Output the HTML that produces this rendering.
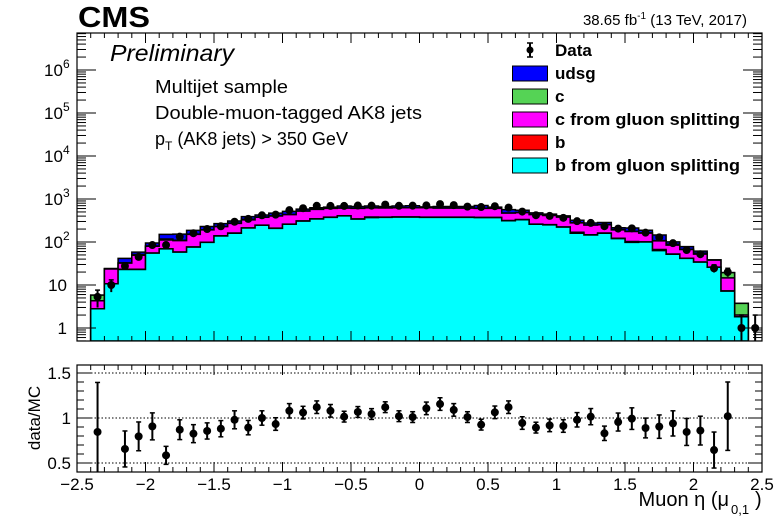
<!DOCTYPE html>
<html><head><meta charset="utf-8"><style>
html,body{margin:0;padding:0;background:#fff;}
svg text{font-family:"Liberation Sans",sans-serif;}
</style></head><body>
<svg id="c" width="778" height="524" xmlns="http://www.w3.org/2000/svg">
<g id="upper"></g>
<g id="lower"></g>
<g id="txt">
<text x="78" y="27" font-size="29" font-weight="bold" textLength="72" lengthAdjust="spacingAndGlyphs">CMS</text>
<text x="747" y="25" font-size="15" text-anchor="end">38.65 fb<tspan dy="-6" font-size="10">-1</tspan><tspan dy="6"> (13 TeV, 2017)</tspan></text>
<text x="110" y="61" font-size="23" font-style="italic" textLength="124" lengthAdjust="spacingAndGlyphs">Preliminary</text>
<text x="155" y="93" font-size="18" textLength="133" lengthAdjust="spacingAndGlyphs">Multijet sample</text>
<text x="155" y="119" font-size="18" textLength="267" lengthAdjust="spacingAndGlyphs">Double-muon-tagged AK8 jets</text>
<text x="155" y="145" font-size="18">p<tspan dy="5" font-size="12">T</tspan><tspan dy="-5"> (AK8 jets) &gt; 350 GeV</tspan></text>
<text transform="translate(40,418) rotate(-90)" font-size="17" text-anchor="middle">data/MC</text>
<text x="729" y="506" font-size="20" text-anchor="end">Muon η (μ</text>
<text x="731" y="514" font-size="13">0,1</text>
<text x="755" y="506" font-size="20">)</text>
</g>
<g id="legend"></g>
</svg>
<script>
const NS="http://www.w3.org/2000/svg";
const edgesLo=-2.4, binW=0.1;
const bgs=[2.8,10.7,23,23,55,69,58,76,98,138,160,211,245,208,258,306,343,375,405,340,370,375,380,380,375,375,375,375,370,370,313,330,258,250,222,160,145,160,120,98,100,63,52,41.6,34,25.8,7.2,1.83];
const bHad=[0,0,0.2,0.3,0.5,0.6,0.6,0.8,1,1.5,2,2,2.5,2,3,3,4,4,4,4,12,4,4,4,4,4,4,4,4,4,3,3,3,3,3,8,2,2,2,5,1,4,0.5,0.4,0.3,0.2,0.1,0];
const cgs=[1.5,12.8,9,26,24,42,49,74,92,88,110,114,130,192,172,214,227,225,205,260,240,240,240,240,245,235,235,235,230,230,152,150,172,160,153,110,100,90,70,72,60,39,32,25,18,12,7.3,0.17];
const cHad=[1.5,0.2,0.5,2,1,6,2,2,2,2,3,10,3,3,4,4,4,4,4,4,4,4,4,4,4,4,4,4,4,4,3,3,3,3,3,3,2,2,2,2,2,2,4,1,3,0.2,4.8,1.75];
const udsg=[0,0.5,9,7,14,33,43,33,36,38,32,53,43,65,80,55,50,40,70,60,60,45,60,70,30,50,50,50,100,40,95,60,40,30,25,40,27,30,20,35,25,37,12,10,6,0.3,0,0];
const dataEta=[-2.35,-2.25,-2.15,-2.05,-1.95,-1.85,-1.75,-1.65,-1.55,-1.45,-1.35,-1.25,-1.15,-1.05,-0.95,-0.85,-0.75,-0.65,-0.55,-0.45,-0.35,-0.25,-0.15,-0.05,0.05,0.15,0.25,0.35,0.45,0.55,0.65,0.75,0.85,0.95,1.05,1.15,1.25,1.35,1.45,1.55,1.65,1.75,1.85,1.95,2.05,2.15,2.25,2.35,2.45];
const dataVal=[5.3,10,27.6,45,85,85,133,160,200,232,296,345,418,433,550,610,695,690,690,705,700,740,695,700,710,760,720,665,650,680,630,510,420,405,365,305,278,233,205,208,165,128,94,65,52,24.5,20,1.0,1.0];
const ratioEta=[-2.35,-2.15,-2.05,-1.95,-1.85,-1.75,-1.65,-1.55,-1.45,-1.35,-1.25,-1.15,-1.05,-0.95,-0.85,-0.75,-0.65,-0.55,-0.45,-0.35,-0.25,-0.15,-0.05,0.05,0.15,0.25,0.35,0.45,0.55,0.65,0.75,0.85,0.95,1.05,1.15,1.25,1.35,1.45,1.55,1.65,1.75,1.85,1.95,2.05,2.15,2.25];
const ratioVal=[0.845,0.656,0.796,0.907,0.585,0.87,0.826,0.856,0.881,0.98,0.893,1.0,0.933,1.08,1.06,1.12,1.08,1.015,1.067,1.044,1.12,1.02,1.01,1.107,1.155,1.09,1.01,0.926,1.063,1.12,0.944,0.893,0.918,0.911,0.98,1.015,0.83,0.955,0.993,0.889,0.904,0.94,0.845,0.86,0.644,1.02];
const ratioErr=[0.55,0.2,0.16,0.15,0.1,0.11,0.1,0.09,0.09,0.1,0.08,0.08,0.07,0.08,0.07,0.07,0.07,0.06,0.06,0.06,0.06,0.06,0.06,0.07,0.07,0.07,0.06,0.06,0.07,0.07,0.07,0.06,0.07,0.07,0.08,0.09,0.08,0.1,0.12,0.11,0.13,0.14,0.15,0.16,0.2,0.38];
const xTicks=[-2.5,-2,-1.5,-1,-0.5,0,0.5,1,1.5,2,2.5];
const xTickLabels=["\u22122.5","\u22122","\u22121.5","\u22121","\u22120.5","0","0.5","1","1.5","2","2.5"];
const ratioTicks=[0.5,1,1.5];
const ratioTickLabels=["0.5","1","1.5"];

const X0=77,X1=762, UT=33,UB=341, LT=365,LB=472;
const xs=v=>X0+(v+2.5)/5*(X1-X0);
const yu=v=>328-43*Math.log10(Math.max(v,1e-3));
const yr=v=>418-(v-1)*90;
const up=document.getElementById('upper'), lo=document.getElementById('lower'), lg=document.getElementById('legend');
function mk(tag,attrs,parent){const e=document.createElementNS(NS,tag);for(const k in attrs)e.setAttribute(k,attrs[k]);parent.appendChild(e);return e;}

const defs=mk('defs',{},document.getElementById('c'));
const cp=mk('clipPath',{id:'cu'},defs);mk('rect',{x:X0,y:UT,width:X1-X0,height:UB-UT},cp);
const cp2=mk('clipPath',{id:'cl'},defs);mk('rect',{x:X0,y:LT,width:X1-X0,height:LB-LT},cp2);

const layers=[["udsg",udsg,"#0000ff"],["c",cHad,"#55d355"],["cgs",cgs,"#ff00ff"],["b",bHad,"#ff0000"],["bgs",bgs,"#00ffff"]];
const comps=[bgs,bHad,cgs,cHad,udsg];
const gs=mk('g',{'clip-path':'url(#cu)'},up);


for(let li=0;li<layers.length;li++){
  const depth=layers.length-li;
  let d="M"+xs(edgesLo)+","+UB;
  for(let i=0;i<bgs.length;i++){
    let s=0;for(let k=0;k<depth;k++)s+=comps[k][i];
    const y=s>0?yu(s):UB+5;
    d+=" L"+xs(edgesLo+i*binW)+","+y+" L"+xs(edgesLo+(i+1)*binW)+","+y;
  }
  d+=" L"+xs(edgesLo+bgs.length*binW)+","+UB+" Z";
  const p=mk('path',{d:d,fill:layers[li][2],stroke:'#000','stroke-width':1.5},gs);
  
  
}
const gd=mk('g',{'clip-path':'url(#cu)'},up);


for(let i=0;i<dataVal.length;i++){
  const v=dataVal[i],e=Math.sqrt(v),x=xs(dataEta[i]);
  const y1=yu(v+e), y2=v-e>0?yu(v-e):UB+2;
  mk('line',{x1:x,x2:x,y1:y1,y2:y2,stroke:'#000','stroke-width':2},gd);
  mk('line',{x1:x-2.5,x2:x+2.5,y1:y1,y2:y1,stroke:'#000','stroke-width':1.5},gd);
  const c=mk('circle',{cx:x,cy:yu(v),r:4,fill:'#000'},gd);
  
  
}
mk('rect',{x:X0,y:UT,width:X1-X0,height:UB-UT,fill:'none',stroke:'#000','stroke-width':1.2},up);
for(let t=-2.5;t<=2.5001;t+=0.1){const x=xs(t);const maj=Math.abs(t*2-Math.round(t*2))<1e-6;const L=maj?10:5;
 mk('line',{x1:x,x2:x,y1:UB,y2:UB-L,stroke:'#000','stroke-width':1},up);mk('line',{x1:x,x2:x,y1:UT,y2:UT+L,stroke:'#000','stroke-width':1},up);
 mk('line',{x1:x,x2:x,y1:LB,y2:LB-L,stroke:'#000','stroke-width':1},lo);mk('line',{x1:x,x2:x,y1:LT,y2:LT+L,stroke:'#000','stroke-width':1},lo);}
for(let dec=-1;dec<=7;dec++){for(let m=1;m<=9;m++){const v=m*Math.pow(10,dec);const y=yu(v);if(y<UT||y>UB)continue;const L=m==1?19:9;
 mk('line',{x1:X0,x2:X0+L,y1:y,y2:y,stroke:'#000','stroke-width':1},up);mk('line',{x1:X1,x2:X1-L,y1:y,y2:y,stroke:'#000','stroke-width':1},up);}}
const ylab=[[1,"1",""],[10,"10",""],[100,"10","2"],[1000,"10","3"],[1e4,"10","4"],[1e5,"10","5"],[1e6,"10","6"]];
ylab.forEach(l=>{const y=yu(l[0]);
 if(l[2]){const t=mk('text',{x:44,y:y+6,'font-size':17},up);t.textContent=l[1];const s=mk('text',{x:63,y:y-2,'font-size':12},up);s.textContent=l[2];}
 else{const t=mk('text',{x:67,y:y+6,'font-size':17,'text-anchor':'end'},up);t.textContent=l[1];}});

ratioTicks.forEach((t,i)=>{const y=yr(t);mk('line',{x1:X0,x2:X1,y1:y,y2:y,stroke:'#000','stroke-width':1,'stroke-dasharray':'1.5,2'},lo);
 const tl=mk('text',{x:71,y:y+6,'font-size':17,'text-anchor':'end'},lo);tl.textContent=ratioTickLabels[i];
 
 });
for(let v=0.4;v<=1.5901;v+=0.1){const y=yr(v);const maj=Math.abs(v*2-Math.round(v*2))<1e-6;const L=maj?14:7;
 mk('line',{x1:X0,x2:X0+L,y1:y,y2:y,stroke:'#000'},lo);mk('line',{x1:X1,x2:X1-L,y1:y,y2:y,stroke:'#000'},lo);}
const gr=mk('g',{'clip-path':'url(#cl)'},lo);


for(let i=0;i<ratioVal.length;i++){const x=xs(ratioEta[i]),y1=yr(ratioVal[i]+ratioErr[i]),y2=yr(ratioVal[i]-ratioErr[i]);
 mk('line',{x1:x,x2:x,y1:y1,y2:y2,stroke:'#000','stroke-width':2},gr);
 mk('line',{x1:x-2.5,x2:x+2.5,y1:y1,y2:y1,stroke:'#000','stroke-width':1.5},gr);
 mk('line',{x1:x-2.5,x2:x+2.5,y1:y2,y2:y2,stroke:'#000','stroke-width':1.5},gr);
 const c=mk('circle',{cx:x,cy:yr(ratioVal[i]),r:4,fill:'#000'},gr);
 
 }
mk('rect',{x:X0,y:LT,width:X1-X0,height:LB-LT,fill:'none',stroke:'#000','stroke-width':1.2},lo);
xTicks.forEach((t,i)=>{const tl=mk('text',{x:xs(t),y:490,'font-size':17,'text-anchor':'middle'},lo);tl.textContent=xTickLabels[i];
 
 });

const legItems=[["udsg","#0000ff",66],["c","#55d355",89],["c from gluon splitting","#ff00ff",112],["b","#ff0000",135],["b from gluon splitting","#00ffff",158]];
mk('line',{x1:530,x2:530,y1:43,y2:57,stroke:'#000','stroke-width':2},lg);
mk('line',{x1:527,x2:533,y1:43,y2:43,stroke:'#000','stroke-width':1.5},lg);
mk('line',{x1:527,x2:533,y1:57,y2:57,stroke:'#000','stroke-width':1.5},lg);
mk('circle',{cx:530,cy:50,r:3.5,fill:'#000'},lg);
const dt=mk('text',{x:555,y:56,'font-size':17,'font-weight':'bold'},lg);dt.textContent="Data";


legItems.forEach(it=>{mk('rect',{x:512.5,y:it[2],width:35,height:15,fill:it[1],stroke:'#000','stroke-width':1},lg);
 const t=mk('text',{x:555,y:it[2]+13,'font-size':17,'font-weight':'bold'},lg);t.textContent=it[0];
 if(it[0].length>15){t.setAttribute('textLength','185');t.setAttribute('lengthAdjust','spacingAndGlyphs');}
 
 });
</script>
</body></html>
